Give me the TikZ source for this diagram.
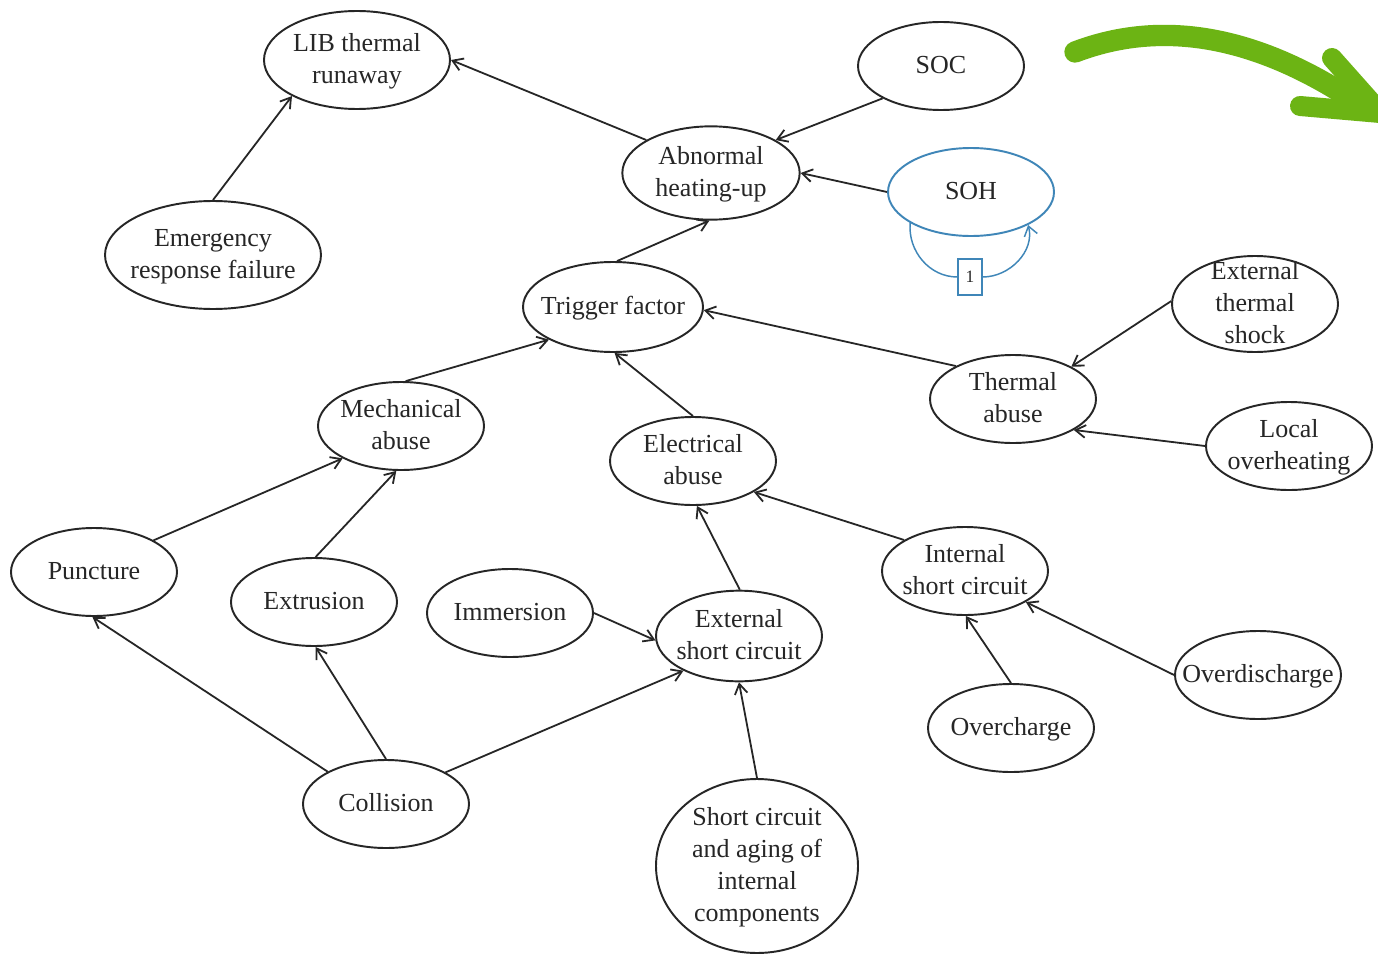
\documentclass[tikz,border=0pt]{standalone}
\usepackage{fontspec}
\setmainfont{Liberation Serif}
\usetikzlibrary{shapes.geometric,arrows.meta}
% centred multi-line label that does not enlarge its ellipse
\newcommand\ctext[1]{\smash{\makebox[0pt]{\raisebox{-0.3em}{\begin{tabular}{@{}c@{}}#1\end{tabular}}}}}
\definecolor{ink}{HTML}{262626}
\definecolor{loopblue}{HTML}{3F86B8}
\definecolor{leaf}{HTML}{6CB414}
\tikzset{
  bub/.style={ellipse, draw=ink, line width=1.45pt, inner sep=0pt,
    minimum width=124.5pt, minimum height=66pt, text=ink,
    font=\fontsize{19.5}{24}\selectfont},
  arr/.style={draw=ink, line width=1.35pt, -{Straight Barb[length=7.5pt,width=9.5pt,line width=1.35pt]}},
}
\begin{document}
\begin{tikzpicture}[x=0.75pt,y=0.75pt]
\useasboundingbox (0,0) rectangle (1378,-956);
\fill[white] (0,0) rectangle (1378,-956);

% nodes
\node[bub, minimum width=139.5pt, minimum height=73.5pt] (lib) at (357,-60) {\ctext{LIB thermal\\runaway}};
\node[bub] (soc) at (941,-66) {\ctext{SOC}};
\node[bub, minimum width=133pt, minimum height=70pt] (abn) at (711,-173) {\ctext{Abnormal\\heating-up}};
\node[bub, draw=loopblue] (soh) at (971,-192) {\ctext{SOH}};
\node[bub, minimum width=162pt, minimum height=81pt] (emg) at (213,-255) {\ctext{Emergency\\response failure}};
\node[bub, minimum width=135pt, minimum height=67.5pt] (trig) at (613,-307) {\ctext{Trigger factor}};
\node[bub, minimum height=72pt] (ets) at (1255,-304) {\ctext{External\\thermal\\shock}};
\node[bub] (th) at (1013,-399) {\ctext{Thermal\\abuse}};
\node[bub] (lo) at (1289,-446) {\ctext{Local\\overheating}};
\node[bub] (mech) at (401,-426) {\ctext{Mechanical\\abuse}};
\node[bub] (elec) at (693,-461) {\ctext{Electrical\\abuse}};
\node[bub] (isc) at (965,-571) {\ctext{Internal\\short circuit}};
\node[bub] (pun) at (94,-572) {\ctext{Puncture}};
\node[bub] (ext) at (314,-602) {\ctext{Extrusion}};
\node[bub] (imm) at (510,-613) {\ctext{Immersion}};
\node[bub, minimum height=68pt] (esc) at (739,-636) {\ctext{External\\short circuit}};
\node[bub] (od) at (1258,-675) {\ctext{Overdischarge}};
\node[bub] (oc) at (1011,-728) {\ctext{Overcharge}};
\node[bub] (col) at (386,-804) {\ctext{Collision}};
\node[bub, minimum width=151.5pt, minimum height=130.5pt] (sca) at (757,-866) {\ctext{Short circuit\\and aging of\\internal\\components}};

% self-loop on SOH with its weight box
\node[draw=loopblue, line width=1pt, fill=white, minimum width=18pt, minimum height=27pt,
  inner sep=0pt, text=ink, font=\fontsize{13}{15}\selectfont] (w) at (970,-277) {1};
\draw[loopblue, line width=1.1pt] (soh.207) to[out=-95, in=180] (w.west);
\draw[loopblue, line width=1.1pt, -{Straight Barb[length=7pt,width=10pt,line width=1.1pt]}]
  (w.east) to[out=0, in=-75] (soh.330);

% connectors
\draw[arr] (abn.153) -- (lib.0);
\draw[arr] (emg.90) -- (lib.209);
\draw[arr] (soc.209) -- (abn.27);
\draw[arr] (soh.180) -- (abn.0);
\draw[arr] (trig.85) -- (abn.268);
\draw[arr] (th.150) -- (trig.358);
\draw[arr] (mech.84) -- (trig.207);
\draw[arr] (elec.90) -- (trig.272);
\draw[arr] (ets.178) -- (th.29);
\draw[arr] (lo.180) -- (th.333);
\draw[arr] (pun.28) -- (mech.209);
\draw[arr] (ext.88) -- (mech.264);
\draw[arr] (isc.153) -- (elec.333);
\draw[arr] (esc.89) -- (elec.275);
\draw[arr] (imm.0) -- (esc.183);
\draw[arr] (col.151) -- (pun.268);
\draw[arr] (col.90) -- (ext.272);
\draw[arr] (col.28) -- (esc.212);
\draw[arr] (sca.90) -- (esc.270);
\draw[arr] (oc.90) -- (isc.271);
\draw[arr] (od.180) -- (isc.333);

% green curved arrow in the top right corner
\begin{scope}
\clip (0,0) rectangle (1378,-956);
\draw[leaf, line width=16pt, line cap=round] (1075,-52) .. controls (1180,-12) and (1280,-50) .. (1362,-106);
\draw[leaf, line width=15pt, line cap=round] (1332,-58) -- (1380,-112);
\draw[leaf, line width=15pt, line cap=round] (1300,-106) -- (1380,-113);
\end{scope}
\end{tikzpicture}
\end{document}
